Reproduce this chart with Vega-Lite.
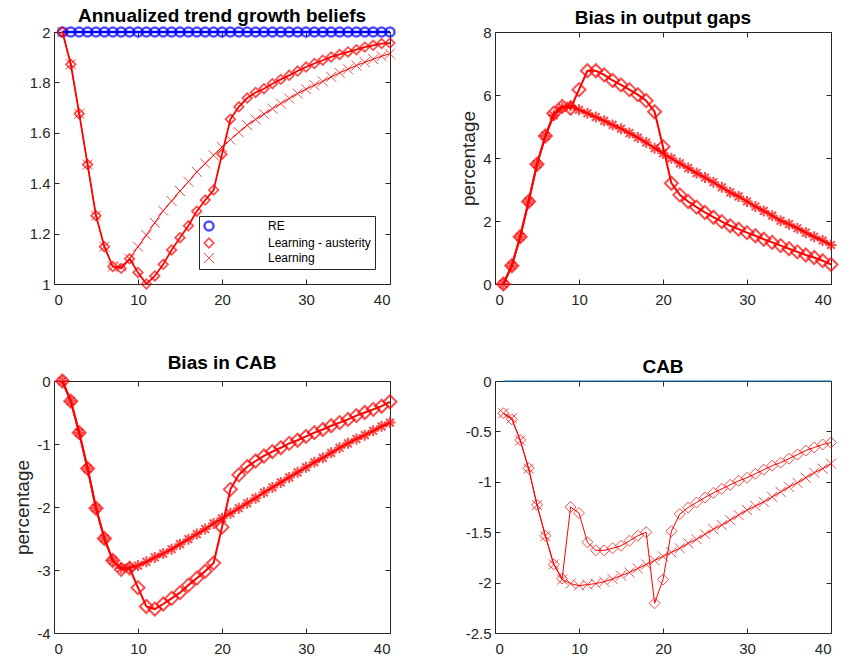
{
  "$schema": "https://vega.github.io/schema/vega-lite/v6.json",
  "background": "white",
  "padding": {"left": 13, "top": 6, "right": 5, "bottom": 5},
  "datasets": {
    "p1": [
      {"t":1,"re":2,"a":2.0,"l":2.0},{"t":2,"re":2,"a":1.872,"l":1.872},{"t":3,"re":2,"a":1.676,"l":1.676},{"t":4,"re":2,"a":1.474,"l":1.474},
      {"t":5,"re":2,"a":1.271,"l":1.271},{"t":6,"re":2,"a":1.148,"l":1.148},{"t":7,"re":2,"a":1.069,"l":1.069},{"t":8,"re":2,"a":1.062,"l":1.07},
      {"t":9,"re":2,"a":1.10,"l":1.10},{"t":10,"re":2,"a":1.046,"l":1.148},{"t":11,"re":2,"a":1.0,"l":1.194},{"t":12,"re":2,"a":1.032,"l":1.243},
      {"t":13,"re":2,"a":1.078,"l":1.291},{"t":14,"re":2,"a":1.135,"l":1.329},{"t":15,"re":2,"a":1.184,"l":1.369},{"t":16,"re":2,"a":1.231,"l":1.406},
      {"t":17,"re":2,"a":1.289,"l":1.445},{"t":18,"re":2,"a":1.333,"l":1.478},{"t":19,"re":2,"a":1.373,"l":1.511},{"t":20,"re":2,"a":1.515,"l":1.544},
      {"t":21,"re":2,"a":1.654,"l":1.573},{"t":22,"re":2,"a":1.703,"l":1.602},{"t":23,"re":2,"a":1.738,"l":1.630},{"t":24,"re":2,"a":1.76,"l":1.653},
      {"t":25,"re":2,"a":1.775,"l":1.674},{"t":26,"re":2,"a":1.795,"l":1.696},{"t":27,"re":2,"a":1.812,"l":1.716},{"t":28,"re":2,"a":1.828,"l":1.736},
      {"t":29,"re":2,"a":1.845,"l":1.756},{"t":30,"re":2,"a":1.861,"l":1.773},{"t":31,"re":2,"a":1.875,"l":1.789},{"t":32,"re":2,"a":1.888,"l":1.804},
      {"t":33,"re":2,"a":1.901,"l":1.822},{"t":34,"re":2,"a":1.911,"l":1.838},{"t":35,"re":2,"a":1.921,"l":1.852},{"t":36,"re":2,"a":1.930,"l":1.867},
      {"t":37,"re":2,"a":1.940,"l":1.880},{"t":38,"re":2,"a":1.947,"l":1.892},{"t":39,"re":2,"a":1.954,"l":1.904},{"t":40,"re":2,"a":1.956,"l":1.914}
    ],
    "p2": [
      {"t":1,"a":0,"l":0},{"t":2,"a":0.58,"l":0.58},{"t":3,"a":1.50,"l":1.50},{"t":4,"a":2.62,"l":2.62},
      {"t":5,"a":3.80,"l":3.80},{"t":6,"a":4.70,"l":4.70},{"t":7,"a":5.42,"l":5.35},{"t":8,"a":5.64,"l":5.60},
      {"t":9,"a":5.58,"l":5.66},{"t":10,"a":6.17,"l":5.53},{"t":11,"a":6.77,"l":5.42},{"t":12,"a":6.77,"l":5.30},
      {"t":13,"a":6.64,"l":5.18},{"t":14,"a":6.46,"l":5.05},{"t":15,"a":6.32,"l":4.93},{"t":16,"a":6.17,"l":4.79},
      {"t":17,"a":6.01,"l":4.65},{"t":18,"a":5.82,"l":4.49},{"t":19,"a":5.47,"l":4.31},{"t":20,"a":4.36,"l":4.15},
      {"t":21,"a":3.20,"l":3.99},{"t":22,"a":2.83,"l":3.83},{"t":23,"a":2.62,"l":3.68},{"t":24,"a":2.44,"l":3.52},
      {"t":25,"a":2.27,"l":3.38},{"t":26,"a":2.12,"l":3.23},{"t":27,"a":1.98,"l":3.07},{"t":28,"a":1.85,"l":2.91},
      {"t":29,"a":1.74,"l":2.78},{"t":30,"a":1.63,"l":2.62},{"t":31,"a":1.53,"l":2.46},{"t":32,"a":1.42,"l":2.32},
      {"t":33,"a":1.32,"l":2.17},{"t":34,"a":1.22,"l":2.01},{"t":35,"a":1.12,"l":1.90},{"t":36,"a":1.02,"l":1.77},
      {"t":37,"a":0.92,"l":1.63},{"t":38,"a":0.84,"l":1.50},{"t":39,"a":0.74,"l":1.38},{"t":40,"a":0.62,"l":1.24}
    ],
    "p3": [
      {"t":1,"a":0,"l":0},{"t":2,"a":-0.32,"l":-0.32},{"t":3,"a":-0.82,"l":-0.82},{"t":4,"a":-1.39,"l":-1.39},
      {"t":5,"a":-2.02,"l":-2.02},{"t":6,"a":-2.50,"l":-2.50},{"t":7,"a":-2.85,"l":-2.85},{"t":8,"a":-2.99,"l":-2.97},
      {"t":9,"a":-2.97,"l":-2.96},{"t":10,"a":-3.28,"l":-2.93},{"t":11,"a":-3.58,"l":-2.87},{"t":12,"a":-3.62,"l":-2.80},
      {"t":13,"a":-3.54,"l":-2.74},{"t":14,"a":-3.45,"l":-2.67},{"t":15,"a":-3.36,"l":-2.59},{"t":16,"a":-3.24,"l":-2.51},
      {"t":17,"a":-3.13,"l":-2.43},{"t":18,"a":-3.02,"l":-2.35},{"t":19,"a":-2.89,"l":-2.26},{"t":20,"a":-2.32,"l":-2.18},
      {"t":21,"a":-1.72,"l":-2.10},{"t":22,"a":-1.49,"l":-2.02},{"t":23,"a":-1.36,"l":-1.94},{"t":24,"a":-1.27,"l":-1.86},
      {"t":25,"a":-1.19,"l":-1.77},{"t":26,"a":-1.12,"l":-1.69},{"t":27,"a":-1.06,"l":-1.61},{"t":28,"a":-0.99,"l":-1.53},
      {"t":29,"a":-0.94,"l":-1.45},{"t":30,"a":-0.88,"l":-1.37},{"t":31,"a":-0.82,"l":-1.29},{"t":32,"a":-0.77,"l":-1.22},
      {"t":33,"a":-0.71,"l":-1.14},{"t":34,"a":-0.66,"l":-1.06},{"t":35,"a":-0.61,"l":-0.99},{"t":36,"a":-0.55,"l":-0.92},
      {"t":37,"a":-0.50,"l":-0.86},{"t":38,"a":-0.45,"l":-0.79},{"t":39,"a":-0.40,"l":-0.72},{"t":40,"a":-0.33,"l":-0.66}
    ],
    "p4": [
      {"t":1,"re":0,"a":-0.32,"l":-0.32},{"t":2,"re":0,"a":-0.38,"l":-0.37},{"t":3,"re":0,"a":-0.585,"l":-0.59},{"t":4,"re":0,"a":-0.865,"l":-0.87},
      {"t":5,"re":0,"a":-1.23,"l":-1.23},{"t":6,"re":0,"a":-1.535,"l":-1.54},{"t":7,"re":0,"a":-1.82,"l":-1.82},{"t":8,"re":0,"a":-1.96,"l":-1.97},
      {"t":9,"re":0,"a":-1.25,"l":-2.01},{"t":10,"re":0,"a":-1.31,"l":-2.03},{"t":11,"re":0,"a":-1.60,"l":-2.02},{"t":12,"re":0,"a":-1.68,"l":-2.01},
      {"t":13,"re":0,"a":-1.68,"l":-1.99},{"t":14,"re":0,"a":-1.66,"l":-1.965},{"t":15,"re":0,"a":-1.635,"l":-1.93},{"t":16,"re":0,"a":-1.585,"l":-1.90},
      {"t":17,"re":0,"a":-1.535,"l":-1.86},{"t":18,"re":0,"a":-1.50,"l":-1.82},{"t":19,"re":0,"a":-2.205,"l":-1.78},{"t":20,"re":0,"a":-1.97,"l":-1.74},
      {"t":21,"re":0,"a":-1.49,"l":-1.70},{"t":22,"re":0,"a":-1.32,"l":-1.66},{"t":23,"re":0,"a":-1.255,"l":-1.61},{"t":24,"re":0,"a":-1.205,"l":-1.57},
      {"t":25,"re":0,"a":-1.155,"l":-1.52},{"t":26,"re":0,"a":-1.11,"l":-1.47},{"t":27,"re":0,"a":-1.07,"l":-1.43},{"t":28,"re":0,"a":-1.03,"l":-1.38},
      {"t":29,"re":0,"a":-0.99,"l":-1.33},{"t":30,"re":0,"a":-0.96,"l":-1.28},{"t":31,"re":0,"a":-0.92,"l":-1.24},{"t":32,"re":0,"a":-0.88,"l":-1.20},
      {"t":33,"re":0,"a":-0.84,"l":-1.15},{"t":34,"re":0,"a":-0.81,"l":-1.10},{"t":35,"re":0,"a":-0.77,"l":-1.05},{"t":36,"re":0,"a":-0.73,"l":-1.01},
      {"t":37,"re":0,"a":-0.69,"l":-0.96},{"t":38,"re":0,"a":-0.66,"l":-0.91},{"t":39,"re":0,"a":-0.63,"l":-0.87},{"t":40,"re":0,"a":-0.61,"l":-0.82}
    ]
  },
  "columns": 2,
  "spacing": {"row": 45, "column": 57},
  "resolve": {"scale": {"color": "independent", "shape": "independent", "size": "independent", "strokeWidth": "independent"}, "legend": {"color": "independent", "shape": "independent"}},
  "concat": [
    {
      "width": 336, "height": 252,
      "title": {"text": "Annualized trend growth beliefs"},
      "data": {"name": "p1"},
      "transform": [{"fold": ["re", "a", "l"], "as": ["k", "v"]}],
      "resolve": {"axis": {"x": "independent", "y": "independent"}},
      "layer": [
        {
          "mark": {"type": "point", "filled": false},
          "encoding": {
            "x": {"field": "t", "type": "quantitative", "scale": {"domain": [0, 40], "nice": false}, "axis": {"orient": "bottom", "values": [0, 10, 20, 30, 40], "labelExpr": "'' + datum.value", "title": null}},
            "y": {"field": "v", "type": "quantitative", "scale": {"domain": [1, 2], "nice": false, "zero": false}, "axis": {"orient": "left", "values": [1, 1.2, 1.4, 1.6, 1.8, 2], "labelExpr": "'' + datum.value", "title": null}},
            "color": {"field": "k", "type": "nominal", "scale": {"domain": ["re", "a", "l"], "range": ["#0000ff", "#ff0000", "#ff0000"]},
              "legend": {
                "orient": "none", "legendX": 145, "legendY": 184, "title": null,
                "strokeColor": "#262626", "fillColor": "white", "padding": 4,
                "labelFont": "Liberation Sans", "labelFontSize": 12, "labelColor": "#000000",
                "symbolSize": 100, "rowPadding": -2, "labelOffset": 53,
                "labelExpr": "datum.value == 're' ? 'RE' : (datum.value == 'a' ? 'Learning - austerity' : 'Learning')",
                "encode": {"symbols": {
                  "shape": {"value": {"expr": "datum.value == 're' ? 'M-5,0L5,0M-0.9,0A0.9,0.9 0 1,1 0.9,0A0.9,0.9 0 1,1 -0.9,0' : (datum.value == 'a' ? 'M-5,0L-1,0M1,0L5,0M-1,0L0,-1L1,0L0,1Z' : 'M-5,0L5,0M-0.8,-0.8L0.8,0.8M-0.8,0.8L0.8,-0.8')"}},
                  "strokeWidth": {"value": {"expr": "datum.value == 're' ? 2.5 : 1"}},
                  "size": {"value": 100},
                  "x": {"value": 35}
                }}
              }},
            "shape": {"field": "k", "type": "nominal", "scale": {"domain": ["re", "a", "l"], "range": ["circle", "diamond", "M-1,-1L1,1M-1,1L1,-1"]}, "legend": null},
            "size": {"field": "k", "type": "nominal", "scale": {"domain": ["re", "a", "l"], "range": [81, 100, 100]}, "legend": null},
            "strokeWidth": {"field": "k", "type": "nominal", "scale": {"domain": ["re", "a", "l"], "range": [2.5, 1, 1]}, "legend": null}
          }
        },
        {
          "mark": {"type": "line"},
          "encoding": {
            "x": {"field": "t", "type": "quantitative", "axis": {"orient": "top", "values": [0, 10, 20, 30, 40], "labels": false, "title": null, "maxExtent": 0, "minExtent": 0}},
            "y": {"field": "v", "type": "quantitative", "axis": {"orient": "right", "values": [1, 1.2, 1.4, 1.6, 1.8, 2], "labels": false, "title": null, "maxExtent": 0, "minExtent": 0}},
            "detail": {"field": "k"},
            "color": {"field": "k", "type": "nominal", "scale": {"domain": ["re", "a", "l"], "range": ["#0000ff", "#ff0000", "#ff0000"]}},
            "strokeWidth": {"field": "k", "type": "nominal", "scale": {"domain": ["re", "a", "l"], "range": [2.5, 1, 1]}, "legend": null}
          }
        }
      ]
    },
    {
      "width": 336, "height": 252,
      "title": {"text": "Bias in output gaps"},
      "data": {"name": "p2"},
      "transform": [{"fold": ["a", "l"], "as": ["k", "v"]}],
      "resolve": {"axis": {"x": "independent", "y": "independent"}},
      "layer": [
        {
          "mark": {"type": "line"},
          "encoding": {
            "x": {"field": "t", "type": "quantitative", "scale": {"domain": [0, 40], "nice": false}, "axis": {"orient": "bottom", "values": [0, 10, 20, 30, 40], "labelExpr": "'' + datum.value", "title": null}},
            "y": {"field": "v", "type": "quantitative", "scale": {"domain": [0, 8], "nice": false}, "axis": {"orient": "left", "values": [0, 2, 4, 6, 8], "labelExpr": "'' + datum.value", "title": "percentage"}},
            "detail": {"field": "k"},
            "color": {"field": "k", "type": "nominal", "scale": {"domain": ["a", "l"], "range": ["#ff0000", "#ff0000"]}, "legend": null},
            "strokeWidth": {"field": "k", "type": "nominal", "scale": {"domain": ["a", "l"], "range": [2, 2]}, "legend": null}
          }
        },
        {
          "mark": {"type": "point", "filled": false},
          "encoding": {
            "x": {"field": "t", "type": "quantitative", "axis": {"orient": "top", "values": [0, 10, 20, 30, 40], "labels": false, "title": null, "maxExtent": 0, "minExtent": 0}},
            "y": {"field": "v", "type": "quantitative", "axis": {"orient": "right", "values": [0, 2, 4, 6, 8], "labels": false, "title": null, "maxExtent": 0, "minExtent": 0}},
            "color": {"field": "k", "type": "nominal", "scale": {"domain": ["a", "l"], "range": ["#ff0000", "#ff0000"]}, "legend": null},
            "shape": {"field": "k", "type": "nominal", "scale": {"domain": ["a", "l"], "range": ["diamond", "M-1,0L1,0M0,-1L0,1M-0.7,-0.7L0.7,0.7M-0.7,0.7L0.7,-0.7"]}, "legend": null},
            "size": {"field": "k", "type": "nominal", "scale": {"domain": ["a", "l"], "range": [170, 121]}, "legend": null},
            "strokeWidth": {"field": "k", "type": "nominal", "scale": {"domain": ["a", "l"], "range": [2, 2]}, "legend": null}
          }
        }
      ]
    },
    {
      "width": 336, "height": 252,
      "title": {"text": "Bias in CAB"},
      "data": {"name": "p3"},
      "transform": [{"fold": ["a", "l"], "as": ["k", "v"]}],
      "resolve": {"axis": {"x": "independent", "y": "independent"}},
      "layer": [
        {
          "mark": {"type": "line"},
          "encoding": {
            "x": {"field": "t", "type": "quantitative", "scale": {"domain": [0, 40], "nice": false}, "axis": {"orient": "bottom", "values": [0, 10, 20, 30, 40], "labelExpr": "'' + datum.value", "title": null}},
            "y": {"field": "v", "type": "quantitative", "scale": {"domain": [-4, 0], "nice": false}, "axis": {"orient": "left", "values": [-4, -3, -2, -1, 0], "labelExpr": "'' + datum.value", "title": "percentage"}},
            "detail": {"field": "k"},
            "color": {"field": "k", "type": "nominal", "scale": {"domain": ["a", "l"], "range": ["#ff0000", "#ff0000"]}, "legend": null},
            "strokeWidth": {"field": "k", "type": "nominal", "scale": {"domain": ["a", "l"], "range": [2, 2]}, "legend": null}
          }
        },
        {
          "mark": {"type": "point", "filled": false},
          "encoding": {
            "x": {"field": "t", "type": "quantitative", "axis": {"orient": "top", "values": [0, 10, 20, 30, 40], "labels": false, "title": null, "maxExtent": 0, "minExtent": 0}},
            "y": {"field": "v", "type": "quantitative", "axis": {"orient": "right", "values": [-4, -3, -2, -1, 0], "labels": false, "title": null, "maxExtent": 0, "minExtent": 0}},
            "color": {"field": "k", "type": "nominal", "scale": {"domain": ["a", "l"], "range": ["#ff0000", "#ff0000"]}, "legend": null},
            "shape": {"field": "k", "type": "nominal", "scale": {"domain": ["a", "l"], "range": ["diamond", "M-1,0L1,0M0,-1L0,1M-0.7,-0.7L0.7,0.7M-0.7,0.7L0.7,-0.7"]}, "legend": null},
            "size": {"field": "k", "type": "nominal", "scale": {"domain": ["a", "l"], "range": [170, 121]}, "legend": null},
            "strokeWidth": {"field": "k", "type": "nominal", "scale": {"domain": ["a", "l"], "range": [2, 2]}, "legend": null}
          }
        }
      ]
    },
    {
      "width": 336, "height": 252,
      "title": {"text": "CAB"},
      "data": {"name": "p4"},
      "transform": [{"fold": ["re", "a", "l"], "as": ["k", "v"]}],
      "resolve": {"axis": {"x": "independent", "y": "independent"}},
      "layer": [
        {
          "mark": {"type": "line"},
          "encoding": {
            "x": {"field": "t", "type": "quantitative", "scale": {"domain": [0, 40], "nice": false}, "axis": {"orient": "bottom", "values": [0, 10, 20, 30, 40], "labelExpr": "'' + datum.value", "title": null}},
            "y": {"field": "v", "type": "quantitative", "scale": {"domain": [-2.5, 0], "nice": false}, "axis": {"orient": "left", "values": [-2.5, -2, -1.5, -1, -0.5, 0], "labelExpr": "'' + datum.value", "title": null}},
            "detail": {"field": "k"},
            "color": {"field": "k", "type": "nominal", "scale": {"domain": ["re", "a", "l"], "range": ["#0072bd", "#ff0000", "#ff0000"]}, "legend": null},
            "strokeWidth": {"value": 1}
          }
        },
        {
          "transform": [{"filter": "datum.k != 're'"}],
          "mark": {"type": "point", "filled": false, "strokeWidth": 1},
          "encoding": {
            "x": {"field": "t", "type": "quantitative", "axis": {"orient": "top", "values": [0, 10, 20, 30, 40], "labels": false, "title": null, "maxExtent": 0, "minExtent": 0}},
            "y": {"field": "v", "type": "quantitative", "axis": {"orient": "right", "values": [-2.5, -2, -1.5, -1, -0.5, 0], "labels": false, "title": null, "maxExtent": 0, "minExtent": 0}},
            "color": {"field": "k", "type": "nominal", "scale": {"domain": ["re", "a", "l"], "range": ["#0072bd", "#ff0000", "#ff0000"]}, "legend": null},
            "shape": {"field": "k", "type": "nominal", "scale": {"domain": ["a", "l"], "range": ["diamond", "M-1,-1L1,1M-1,1L1,-1"]}, "legend": null},
            "size": {"field": "k", "type": "nominal", "scale": {"domain": ["a", "l"], "range": [121, 100]}, "legend": null}
          }
        }
      ]
    }
  ],
  "config": {
    "view": {"stroke": "#262626", "strokeWidth": 1},
    "axis": {
      "grid": false, "domain": false,
      "ticks": true, "tickSize": -5, "tickColor": "#262626", "tickWidth": 1,
      "labelFont": "Liberation Sans", "labelFontSize": 15, "labelColor": "#262626",
      "titleFont": "Liberation Sans", "titleFontSize": 19, "titleFontWeight": "normal", "titleColor": "#262626", "titlePadding": 4
    },
    "axisX": {"labelPadding": 13},
    "axisY": {"labelPadding": 9},
    "title": {"font": "Liberation Sans", "fontSize": 19, "fontWeight": "bold", "color": "#000000", "offset": -3, "baseline": "alphabetic"}
  }
}
